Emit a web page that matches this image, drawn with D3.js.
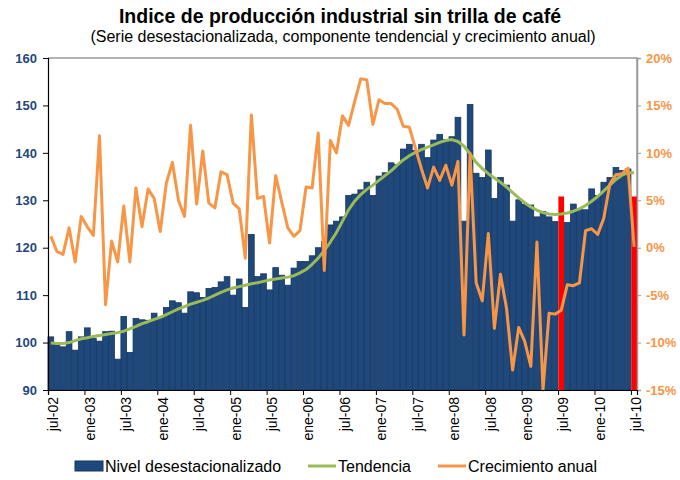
<!DOCTYPE html>
<html>
<head>
<meta charset="utf-8">
<script src="https://cdn.jsdelivr.net/npm/d3@7"></script>
<style>
  body { margin: 0; background: #fff; }
  svg { font-family: "Liberation Sans", Arial, sans-serif; }
</style>
</head>
<body>
<svg id="chart" width="680" height="480"></svg>
<script>
// months jul-02 .. jul-10
const monthNames = ["ene","feb","mar","abr","may","jun","jul","ago","sep","oct","nov","dic"];
const categories = [];
for (let y = 2002, m = 6; y < 2010 || (y === 2010 && m <= 6); ) {
  categories.push(monthNames[m] + "-" + String(y).slice(2));
  m++; if (m === 12) { m = 0; y++; }
}
const tickLabels = ["jul-02","ene-03","jul-03","ene-04","jul-04","ene-05","jul-05","ene-06",
  "jul-06","ene-07","jul-07","ene-08","jul-08","ene-09","jul-09","ene-10","jul-10"];
const highlighted = ["jul-09", "jul-10"];

// nivel desestacionalizado (left axis)
const nivel = [
  101.2, 99.9, 99.1, 102.3, 98.4, 101.2, 103.1, 100.9, 100.3, 102.3, 102.4, 96.5,
  105.5, 97.9, 105.1, 104.8, 104.7, 106.2, 105.1, 107.4, 108.8, 108.4, 106.2, 110.7,
  110.5, 109.5, 111.4, 111.6, 112.8, 113.9, 110.0, 113.4, 107.4, 122.8, 113.9, 114.5,
  111.1, 115.8, 114.2, 112.1, 115.7, 117.1, 117.1, 118.3, 120.0, 121.3, 124.8, 125.6,
  126.5, 131.0, 131.3, 132.2, 133.8, 131.0, 135.1, 135.8, 137.9, 137.5, 140.8, 141.8,
  140.5, 141.8, 139.0, 142.7, 143.9, 142.8, 143.4, 147.5, 125.6, 150.2, 135.7, 134.8,
  140.6, 130.4, 134.8, 133.2, 125.6, 130.1, 129.2, 129.0, 126.5, 127.6, 126.5, 125.5,
  130.8, 125.3, 129.2, 128.1, 128.0, 132.4, 131.0, 133.8, 134.8, 136.9, 136.3, 136.6,
  130.8
];

// tendencia (left axis)
const tendencia = [
  99.9, 99.8, 99.8, 100.0, 100.4, 100.8, 101.0, 101.3, 101.5, 101.7, 101.9, 102.1,
  102.4, 102.9, 103.4, 104.0, 104.4, 104.9, 105.3, 105.9, 106.5, 107.1, 107.6, 108.1,
  108.5, 108.9, 109.4, 110.0, 110.6, 111.1, 111.5, 111.8, 112.1, 112.4, 112.6, 112.9,
  113.2, 113.4, 113.6, 113.8, 114.1, 114.7, 115.4, 116.5, 117.8, 119.4, 121.2, 123.2,
  125.6, 128.0, 129.8, 131.2, 132.3, 133.2, 134.2, 135.2, 136.2, 137.4, 138.5, 139.4,
  140.1, 140.7, 141.2, 141.7, 142.2, 142.6, 142.8, 142.4, 141.4, 139.8, 138.0, 136.7,
  135.6, 134.7, 133.8, 132.8, 131.6, 130.5, 129.5, 128.6, 127.9, 127.4, 127.1, 127.0,
  127.1, 127.3, 127.7, 128.2, 128.9, 129.8, 130.8, 132.0, 133.2, 134.4, 135.3, 135.8,
  135.8
];

// crecimiento anual, % (right axis)
const crecimiento = [
  1.2, -0.4, -0.7, 2.1, -1.5, 3.3, 2.2, 1.3, 11.8, -6.0, 0.7, -1.5,
  4.4, -1.5, 6.3, 2.2, 6.2, 5.2, 1.7, 6.8, 9.0, 5.0, 3.3, 12.9,
  4.6, 10.2, 4.7, 4.2, 8.0, 7.7, 4.7, 4.1, -1.1, 14.0, 5.2, 5.4,
  0.5, 7.6, 4.8, 2.1, 1.2, 1.8, 6.4, 6.3, 12.1, -2.4, 11.3, 10.0,
  13.9, 12.9, 15.4, 17.8, 17.7, 13.0, 15.6, 15.2, 15.2, 14.6, 12.8, 12.7,
  10.5, 8.3, 6.3, 8.5, 7.1, 8.7, 6.6, 9.1, -9.2, 9.9, -3.7, -5.6,
  1.5, -8.5, -2.8, -6.4, -12.9, -8.4, -9.9, -12.5, 0.6, -15.0, -6.9, -7.0,
  -6.6, -3.9, -4.0, -3.7, 1.8, 2.0, 1.4, 3.1, 6.7, 7.7, 7.8, 8.4,
  0.1
];

const leftTicks = [90, 100, 110, 120, 130, 140, 150, 160];
const rightTicks = [-15, -10, -5, 0, 5, 10, 15, 20];

const svg = d3.select("#chart");
const margin = { top: 58, right: 43, bottom: 90, left: 48 };
const width = 680, height = 480;
const blue = "#1f497d", green = "#9bbb59", orange = "#f79646";

const x = d3.scaleBand()
  .domain(categories)
  .range([margin.left, width - margin.right])
  .paddingInner(0.06);

// tick positions sit on the boundaries between months
const xEdge = d3.scaleLinear()
  .domain([0, categories.length])
  .range([margin.left, width - margin.right]);

const y = d3.scaleLinear().domain([90, 160]).range([height - margin.bottom, margin.top]);
const y2 = d3.scaleLinear().domain([-15, 20]).range([height - margin.bottom, margin.top]);

// titles
svg.append("text")
  .attr("x", 340).attr("y", 23)
  .attr("text-anchor", "middle")
  .style("font-size", "19.5px").style("font-weight", "bold")
  .text("Indice de producción industrial sin trilla de café");
svg.append("text")
  .attr("x", 343).attr("y", 42)
  .attr("text-anchor", "middle")
  .style("font-size", "16px")
  .text("(Serie desestacionalizada, componente tendencial y crecimiento anual)");

// plot frame (top + right in grey)
svg.append("path")
  .attr("d", `M${margin.left},${margin.top}H${width - margin.right}V${height - margin.bottom}`)
  .attr("fill", "none").attr("stroke", "#9a9a9a").attr("stroke-width", 1.5);

// bars
svg.append("g")
  .selectAll("rect")
  .data(nivel)
  .join("rect")
  .attr("x", (d, i) => x(categories[i]))
  .attr("y", d => y(d))
  .attr("width", x.bandwidth())
  .attr("height", d => y(90) - y(d))
  .attr("fill", (d, i) => highlighted.includes(categories[i]) ? "#ff0000" : blue)
  .attr("stroke", (d, i) => highlighted.includes(categories[i]) ? "none" : "#17365d")
  .attr("stroke-width", 0.8);

const lineLeft = d3.line()
  .x((d, i) => x(categories[i]) + x.bandwidth() / 2)
  .y(d => y(d));
const lineRight = d3.line()
  .x((d, i) => x(categories[i]) + x.bandwidth() / 2)
  .y(d => y2(d));

svg.append("path")
  .datum(tendencia)
  .attr("d", lineLeft)
  .attr("fill", "none").attr("stroke", green)
  .attr("stroke-width", 3).attr("stroke-linejoin", "round");

svg.append("path")
  .datum(crecimiento)
  .attr("d", lineRight)
  .attr("fill", "none").attr("stroke", orange)
  .attr("stroke-width", 3).attr("stroke-linejoin", "round");

// left axis
const gLeft = svg.append("g")
  .attr("transform", `translate(${margin.left},0)`)
  .call(d3.axisLeft(y).tickValues(leftTicks).tickSize(5).tickPadding(6));
gLeft.select(".domain").attr("stroke", "#000").attr("stroke-width", 1.2);
gLeft.selectAll("text")
  .attr("fill", "#1f497d")
  .style("font-size", "13px").style("font-weight", "bold")
  .style("font-family", "'Liberation Sans', Arial, sans-serif");

// right axis
const gRight = svg.append("g")
  .attr("transform", `translate(${width - margin.right},0)`)
  .call(d3.axisRight(y2).tickValues(rightTicks).tickSize(4).tickPadding(5)
    .tickFormat(d => d + "%"));
gRight.select(".domain").attr("stroke", "#9a9a9a").attr("stroke-width", 1.5);
gRight.selectAll(".tick line").attr("stroke", "#9a9a9a");
gRight.selectAll("text")
  .attr("fill", orange)
  .style("font-size", "13px").style("font-weight", "bold")
  .style("font-family", "'Liberation Sans', Arial, sans-serif");

// bottom axis
const tickIdx = tickLabels.map(t => categories.indexOf(t));
const gBottom = svg.append("g")
  .attr("transform", `translate(0,${height - margin.bottom})`)
  .call(d3.axisBottom(xEdge).tickValues(tickIdx).tickSize(5)
    .tickFormat(i => categories[i]));
gBottom.select(".domain").attr("stroke", "#000").attr("stroke-width", 1.2);
gBottom.selectAll("text")
  .attr("fill", "#000")
  .style("font-size", "14px")
  .style("font-family", "'Liberation Sans', Arial, sans-serif")
  .attr("text-anchor", "end")
  .attr("transform", "rotate(-90)")
  .attr("x", -7).attr("y", 5).attr("dy", "0.35em");

// legend
const legend = svg.append("g").attr("transform", "translate(0,466)");
legend.append("rect")
  .attr("x", 75).attr("y", -5).attr("width", 28).attr("height", 10)
  .attr("fill", blue).attr("stroke", "#17365d");
legend.append("text").attr("x", 105).attr("y", 0).attr("dy", "0.35em")
  .style("font-size", "16px").text("Nivel desestacionalizado");
legend.append("line")
  .attr("x1", 308).attr("x2", 336).attr("y1", 0).attr("y2", 0)
  .attr("stroke", green).attr("stroke-width", 3);
legend.append("text").attr("x", 338).attr("y", 0).attr("dy", "0.35em")
  .style("font-size", "16px").text("Tendencia");
legend.append("line")
  .attr("x1", 438).attr("x2", 466).attr("y1", 0).attr("y2", 0)
  .attr("stroke", orange).attr("stroke-width", 3);
legend.append("text").attr("x", 468).attr("y", 0).attr("dy", "0.35em")
  .style("font-size", "16px").text("Crecimiento anual");
</script>
</body>
</html>
